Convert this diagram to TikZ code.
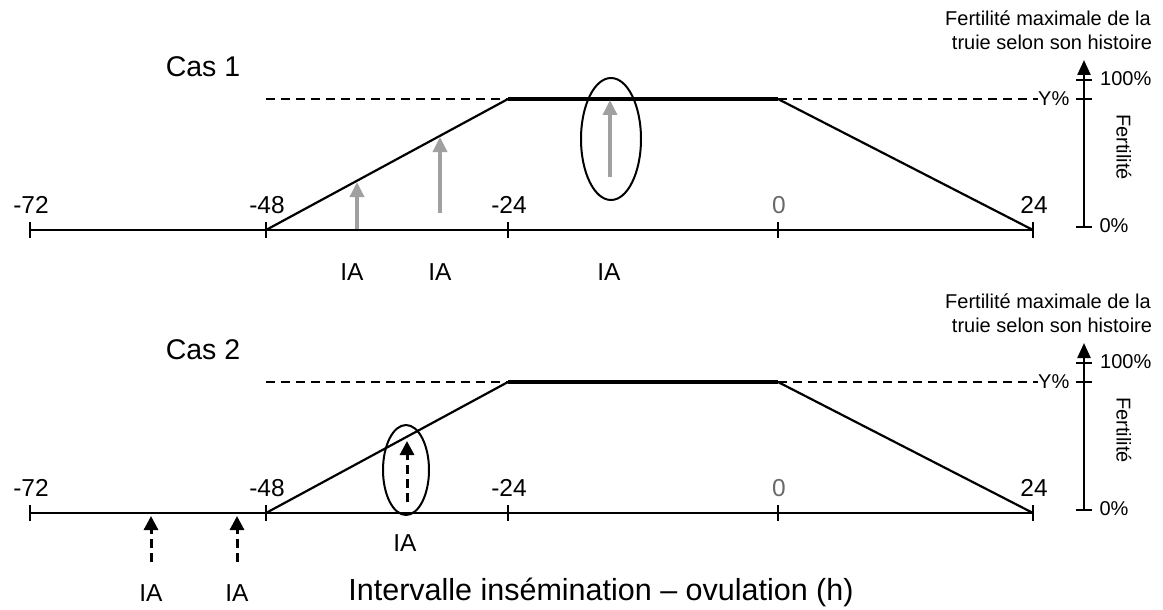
\documentclass[tikz,border=0pt]{standalone}
\usepackage{fontspec}
\setmainfont{Liberation Sans}
\usetikzlibrary{arrows.meta,shapes.geometric}
\definecolor{iagray}{RGB}{160,160,160}
\definecolor{zerogray}{RGB}{105,105,105}
\newcommand\panelbase[2]{%
\begin{scope}[shift={(0,#2)}]
  \coordinate (#1a) at (30,230);
  \coordinate (#1b) at (266,230);
  \coordinate (#1c) at (508,230);
  \coordinate (#1d) at (778,230);
  \coordinate (#1e) at (1033,230);
  \coordinate (#1p) at (508,99);
  \coordinate (#1q) at (778,99);
  \coordinate (#1ds) at (266,99);
  \draw[axisline] (#1a) -- (#1e);
  \foreach \t in {a,b,c,d,e} \draw[tickmark] ([yshift=8pt]#1\t) -- ([yshift=-8pt]#1\t);
  \node[num] (#1l72) at (31,205) {-72};
  \node[num] (#1l48) at (267,205) {-48};
  \node[num] (#1l24m) at (509,205) {-24};
  \node[num,text=zerogray] (#1l0) at (779,205) {0};
  \node[num] (#1l24) at (1034,205) {24};
  \draw[curve] (#1b) -- (#1p);
  \draw[plateau] (#1p) -- (#1q);
  \draw[curve] (#1q) -- (#1e);
  \draw[yref] (#1ds) -- (#1p);
  \node[side, anchor=west] (#1y) at (1038,99) {Y\%};
  \draw[yref] (#1q) -- (#1y.west);
  \coordinate (#1f0) at (1084,227);
  \coordinate (#1ftop) at (1084,60);
  \coordinate (#1f100) at (1084,80);
  \coordinate (#1fy) at (1084,99);
  \draw[axisline, -{Triangle[width=13pt,length=15pt]}] (#1f0) -- (#1ftop);
  \foreach \t in {f0,f100,fy} \draw[tickmark] ([xshift=-8pt]#1\t) -- ([xshift=8pt]#1\t);
  \node[side, anchor=west] (#1c100) at (1100,79) {100\%};
  \node[side] (#1c0) at (1114,226) {0\%};
  \node[side, rotate=-90] (#1fert) at (1124,147) {Fertilité};
  \node[side] (#1t1) at (1048,18) {Fertilité maximale de la};
  \node[side] (#1t2) at (1052,42) {truie selon son histoire};
\end{scope}}
\begin{document}
\begin{tikzpicture}[x=1pt,y=-1pt,
  num/.style={inner sep=0pt, font=\fontsize{24.5}{26}\selectfont},
  side/.style={inner sep=0pt, font=\fontsize{20}{22}\selectfont},
  caslabel/.style={inner sep=0pt, font=\fontsize{28.5}{30}\selectfont},
  biglabel/.style={inner sep=0pt, font=\fontsize{30.5}{32}\selectfont},
  axisline/.style={line width=2.4pt},
  tickmark/.style={line width=2.4pt},
  curve/.style={line width=2.2pt},
  plateau/.style={line width=4.5pt},
  yref/.style={line width=1.8pt, dash pattern=on 9pt off 6pt},
  grayarrow/.style={line width=3.5pt, draw=iagray, -{Triangle[width=14pt,length=15pt,fill=iagray]}},
  dasharrow/.style={line width=3pt, dash pattern=on 9pt off 5pt, -{Triangle[width=14pt,length=14pt]}},
  ring/.style={line width=2pt}
]
\useasboundingbox (0,0) rectangle (1163,610);

% ---------- Cas 1 ----------
\panelbase{u}{0}
\node[caslabel] (cas1) at (203,67) {Cas 1};
\coordinate (g1s) at (357,229);
\coordinate (g1e) at (357,182);
\coordinate (g2s) at (440,213);
\coordinate (g2e) at (440,137);
\coordinate (g3s) at (610,177);
\coordinate (g3e) at (610,100);
\draw[grayarrow] (g1s) -- (g1e);
\draw[grayarrow] (g2s) -- (g2e);
\draw[grayarrow] (g3s) -- (g3e);
\node[ring, draw, ellipse, minimum width=60pt, minimum height=122pt, inner sep=0pt] (ell1) at (611,139) {};
\node[num] (ia1) at (352,272) {IA};
\node[num] (ia2) at (440,272) {IA};
\node[num] (ia3) at (609,272) {IA};

% ---------- Cas 2 ----------
\panelbase{w}{283}
\node[caslabel] (cas2) at (203,350) {Cas 2};
\coordinate (d1s) at (151,562);
\coordinate (d1e) at (151,516);
\coordinate (d2s) at (237,562);
\coordinate (d2e) at (237,516);
\coordinate (d3s) at (407,502);
\coordinate (d3e) at (407,441);
\draw[dasharrow] (d1s) -- (d1e);
\draw[dasharrow] (d2s) -- (d2e);
\draw[dasharrow] (d3s) -- (d3e);
\node[ring, draw, ellipse, minimum width=46pt, minimum height=90pt, inner sep=0pt] (ell2) at (406,470) {};
\node[num] (ia4) at (151,593) {IA};
\node[num] (ia5) at (237,593) {IA};
\node[num] (ia6) at (405,543) {IA};
\node[biglabel] (xlab) at (601,592) {Intervalle insémination – ovulation (h)};
\end{tikzpicture}
\end{document}
